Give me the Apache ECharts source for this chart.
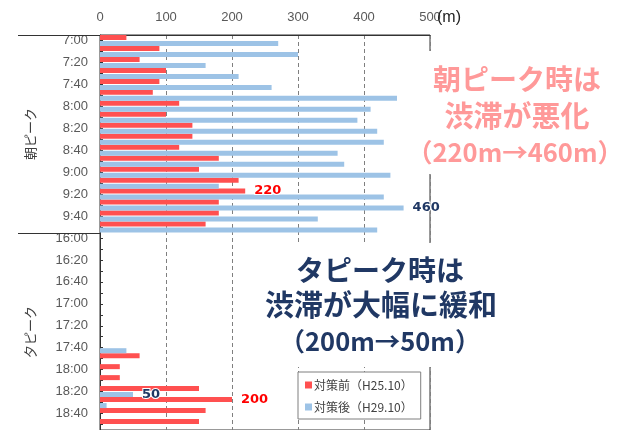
<!DOCTYPE html>
<html><head><meta charset="utf-8">
<script src="https://cdn.jsdelivr.net/npm/echarts@6/dist/echarts.min.js"></script>
<style>html,body{margin:0;padding:0;background:#fff}#c{width:623px;height:430px}</style>
</head><body><div id="c"></div>
<script>
const categories = ['7:00','7:10','7:20','7:30','7:40','7:50','8:00','8:10','8:20','8:30','8:40','8:50','9:00','9:10','9:20','9:30','9:40','9:50',
  '16:00','16:10','16:20','16:30','16:40','16:50','17:00','17:10','17:20','17:30','17:40','17:50','18:00','18:10','18:20','18:30','18:40','18:50'];
const beforeValues = [40, 90, 60, 100, 90, 80, 120, 100, 140, 140, 120, 180, 150, 210, 220, 180, 180, 160,
  0, 0, 0, 0, 0, 0, 0, 0, 0, 0, 0, 60, 30, 30, 150, 200, 160, 150];
const afterValues = [270, 300, 160, 210, 260, 450, 410, 390, 420, 430, 360, 370, 440, 180, 430, 460, 330, 420,
  0, 0, 0, 0, 0, 0, 0, 0, 0, 0, 40, 0, 0, 0, 50, 10, 0, 0];
const beforeLabelled = ['9:20', '18:30'];
const afterLabelled = ['9:30', '18:20'];
const seriesNames = ['対策前（H25.10）', '対策後（H29.10）'];
const xMin = 0, xMax = 500, xInterval = 100;

const RED = '#FF5050', BLUE = '#9DC3E6', PINK = '#FF9999', NAVY = '#203864';
const labelStyle = (color) => ({
  show: true, position: 'right', distance: 9, color: color,
  fontFamily: 'DejaVu Sans', fontWeight: 'bold', fontSize: 13,
  textBorderColor: '#fff', textBorderWidth: 2
});
function buildData(values, labelled, color) {
  return values.map((v, i) => labelled.includes(categories[i])
    ? { value: v, label: labelStyle(color) } : v);
}

const chart = echarts.init(document.getElementById('c'), null, { renderer: 'canvas' });
const CJK = '"Noto Sans CJK JP", "Noto Sans", sans-serif';
chart.setOption({
  animation: false,
  backgroundColor: '#fff',
  grid: { left: 100, right: 193, top: 35, bottom: -1, show: true, borderColor: '#333', borderWidth: 1, backgroundColor: 'transparent' },
  xAxis: {
    type: 'value', position: 'top', min: xMin, max: xMax, interval: xInterval,
    axisLine: { show: true, lineStyle: { color: '#333' } },
    axisTick: { show: false },
    axisLabel: { color: '#595959', fontSize: 13, fontFamily: 'Liberation Sans, Arial', margin: 11 },
    splitLine: { show: true, lineStyle: { color: '#7f7f7f', type: [4, 3], width: 1 } }
  },
  yAxis: {
    type: 'category', inverse: true, data: categories,
    axisLine: { show: true, lineStyle: { color: '#333' } },
    axisTick: { show: true, inside: true, length: 3, alignWithLabel: true, interval: 0, lineStyle: { color: '#333' } },
    axisLabel: { interval: 1, color: '#595959', fontSize: 13, fontFamily: 'Liberation Sans, Arial', margin: 12 },
    splitLine: { show: false }
  },
  legend: {
    orient: 'vertical', left: 298, top: 372, z: 200,
    backgroundColor: '#fff', borderColor: '#7f7f7f', borderWidth: 1,
    padding: [7, 8, 6, 7], itemGap: 10, itemWidth: 7, itemHeight: 7, icon: 'rect',
    textStyle: { fontSize: 12, color: '#404040', fontFamily: CJK, padding: [0, 0, 0, -3] },
    data: seriesNames
  },
  series: [
    { name: seriesNames[0], type: 'bar', barWidth: 5, barGap: '20%', itemStyle: { color: RED },
      data: buildData(beforeValues, beforeLabelled, '#FF0000') },
    { name: seriesNames[1], type: 'bar', barWidth: 5, barGap: '20%', itemStyle: { color: BLUE },
      data: buildData(afterValues, afterLabelled, NAVY) }
  ],
  graphic: [
    { type: 'line', z: 100, shape: { x1: 18, y1: 35.5, x2: 100, y2: 35.5 }, style: { stroke: '#333', lineWidth: 1 } },
    { type: 'line', z: 100, shape: { x1: 18, y1: 233.5, x2: 100, y2: 233.5 }, style: { stroke: '#333', lineWidth: 1 } },
    { type: 'text', z: 100, x: 437, y: 18, style: { text: '(m)', fontSize: 16, fill: '#222', fontFamily: 'Liberation Sans, Arial', textVerticalAlign: 'middle' } },
    { type: 'text', z: 100, x: 30, y: 134, rotation: Math.PI / 2, style: { text: '朝ピーク', fontSize: 13, fill: '#404040', fontFamily: CJK, textAlign: 'center', textVerticalAlign: 'middle' } },
    { type: 'text', z: 100, x: 30, y: 332, rotation: Math.PI / 2, style: { text: '夕ピーク', fontSize: 13, fill: '#404040', fontFamily: CJK, textAlign: 'center', textVerticalAlign: 'middle' } },
    { type: 'rect', z: 90, shape: { x: 405, y: 51, width: 218, height: 123 }, style: { fill: '#fff' } },
    { type: 'rect', z: 90, shape: { x: 252, y: 243, width: 258, height: 124 }, style: { fill: '#fff' } },
    { type: 'text', z: 100, x: 517, y: 79, style: { text: '朝ピーク時は', fontSize: 28, fontWeight: 'bold', fill: PINK, fontFamily: CJK, textAlign: 'center', textVerticalAlign: 'middle' } },
    { type: 'text', z: 100, x: 517, y: 116, style: { text: '渋滞が悪化', fontSize: 29, fontWeight: 'bold', fill: PINK, fontFamily: CJK, textAlign: 'center', textVerticalAlign: 'middle' } },
    { type: 'text', z: 100, x: 515, y: 152, style: { text: '（220m→460m）', fontSize: 25.5, fontWeight: 'bold', fill: PINK, fontFamily: CJK, textAlign: 'center', textVerticalAlign: 'middle' } },
    { type: 'text', z: 100, x: 380, y: 270, style: { text: 'タピーク時は', fontSize: 28, fontWeight: 'bold', fill: NAVY, fontFamily: CJK, textAlign: 'center', textVerticalAlign: 'middle' } },
    { type: 'text', z: 100, x: 381, y: 305, style: { text: '渋滞が大幅に緩和', fontSize: 29, fontWeight: 'bold', fill: NAVY, fontFamily: CJK, textAlign: 'center', textVerticalAlign: 'middle' } },
    { type: 'text', z: 100, x: 380, y: 341, style: { text: '（200m→50m）', fontSize: 25.5, fontWeight: 'bold', fill: NAVY, fontFamily: CJK, textAlign: 'center', textVerticalAlign: 'middle' } }
  ]
});
</script>
</body></html>
